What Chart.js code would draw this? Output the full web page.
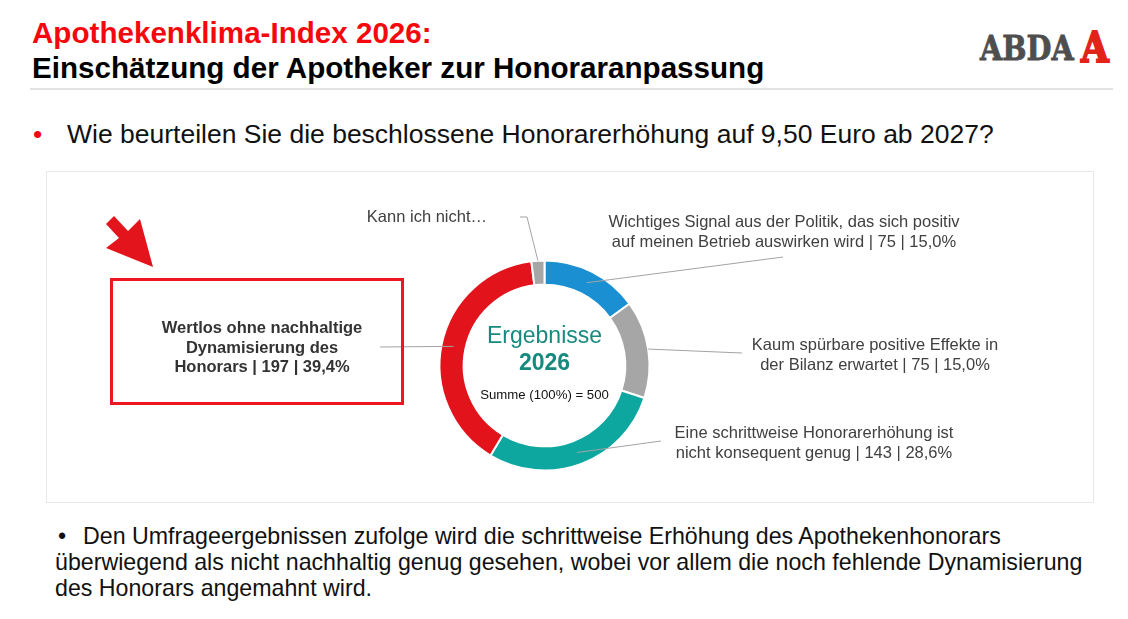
<!DOCTYPE html>
<html lang="de">
<head>
<meta charset="utf-8">
<title>Apothekenklima-Index 2026</title>
<script src="https://cdn.jsdelivr.net/npm/chart.js@4.4.1/dist/chart.umd.min.js"></script>
<style>
  body{margin:0;width:1128px;height:619px;overflow:hidden;background:#fff;position:relative;
    font-family:"Liberation Sans",Arial,sans-serif;color:#111}
  .abs{position:absolute;white-space:nowrap}
  #t1{left:32px;top:16px;font-weight:bold;font-size:29.6px;line-height:34px;color:#f5080d}
  #t2{left:32px;top:51px;font-weight:bold;font-size:29.6px;line-height:34px;color:#000}
  #rule{left:30px;top:88px;width:1083px;height:2px;background:#e2e2e2}
  #logo{left:980px;top:29px;font-family:"DejaVu Serif",serif;font-weight:bold;font-size:33px;
    line-height:40px;color:#4e4e4e;transform:scaleX(0.87);transform-origin:left center;
    -webkit-text-stroke:0.8px #4e4e4e}
  #logoA{left:1081px;top:24px;font-family:"DejaVu Serif",serif;font-weight:bold;font-size:42px;
    line-height:48px;color:#e2231a;transform:scaleX(0.85);transform-origin:left center;
    -webkit-text-stroke:2px #e2231a}
  #q{left:33px;top:119px;font-size:26.5px;line-height:30px}
  #q .dot{color:#f5080d;display:inline-block;width:34px}
  #panel{left:46px;top:171px;width:1048px;height:332px;border:1px solid #e8e8e8;box-sizing:border-box}
  #chart{position:absolute;left:46px;top:171px}
  .lbl{font-size:16.5px;line-height:19.5px;color:#404040;text-align:center}
  .ctr{transform:translateX(-50%)}
  #box{left:110px;top:278px;width:294px;height:127px;border:3px solid #ee1620;box-sizing:border-box}
  #foot{left:55px;top:523px;font-size:23.2px;line-height:26px;color:#111}
  #foot .dot{display:inline-block;width:25px;padding-left:3px}
</style>
</head>
<body>
<div class="abs" id="t1">Apothekenklima-Index 2026:</div>
<div class="abs" id="t2">Einschätzung der Apotheker zur Honoraranpassung</div>
<div class="abs" id="rule"></div>
<div class="abs" id="logo">ABDA</div>
<div class="abs" id="logoA">A</div>
<div class="abs" id="q"><span class="dot">•</span>Wie beurteilen Sie die beschlossene Honorarerhöhung auf 9,50 Euro ab 2027?</div>
<div class="abs" id="panel"></div>
<canvas id="chart" width="1048" height="332"></canvas>
<svg class="abs" style="left:0;top:0" width="200" height="300">
  <polygon points="114,216 128,231 140,219 153,267 106,248 119,238 106,224" fill="#e3141c"/>
</svg>
<div class="abs" id="box"></div>
<div id="labels"></div>
<div class="abs" id="foot"><span class="dot">•</span>Den Umfrageergebnissen zufolge wird die schrittweise Erhöhung des Apothekenhonorars<br>überwiegend als nicht nachhaltig genug gesehen, wobei vor allem die noch fehlende Dynamisierung<br>des Honorars angemahnt wird.</div>
<script>
/* ---------- DATA ---------- */
const categories = [
  ["Wichtiges Signal aus der Politik, das sich positiv", "auf meinen Betrieb auswirken wird"],
  ["Kaum spürbare positive Effekte in", "der Bilanz erwartet"],
  ["Eine schrittweise Honorarerhöhung ist", "nicht konsequent genug"],
  ["Wertlos ohne nachhaltige", "Dynamisierung des", "Honorars"],
  ["Kann ich nicht…"]
];
const counts = [75, 75, 143, 197, 10];
const showValue = [true, true, true, true, false];
const centerTitle = ["Ergebnisse", "2026"];

/* ---------- STYLE + LAYOUT ---------- */
const colors = ["#1a8fd2", "#a6a6a6", "#0ea7a0", "#e2131b", "#a6a6a6"];
const PANEL = {x: 46, y: 171};
const CENTER = {x: 544.5, y: 365.5};
// label boxes (page px): cx = centre x, rx = right edge, top = first line box top
const labelPos = [
  {cx: 784, top: 212},
  {cx: 875, top: 335},
  {cx: 814, top: 423},
  {cx: 262, top: 318, bold: true},
  {rx: 487, top: 207}
];
// leader lines: at = position across ring (0 inner, 1 outer), path in page px
const leaders = [
  {at: 0.5, path: [[783, 257]]},
  {at: 1.0, path: [[742, 353]]},
  {at: 0.5, path: [[661, 441]]},
  {at: 0.5, path: [[380, 347]]},
  {at: 1.0, path: [[527, 217], [520, 217]]}
];

const total = counts.reduce((a, b) => a + b, 0);
const pct = v => (v / total * 100).toFixed(1).replace(".", ",") + "%";

/* ---------- HTML LABELS ---------- */
const host = document.getElementById("labels");
categories.forEach((lines, i) => {
  const p = labelPos[i];
  const txt = lines.slice();
  if (showValue[i]) txt[txt.length - 1] += ` | ${counts[i]} | ${pct(counts[i])}`;
  const d = document.createElement("div");
  d.className = "abs lbl" + (p.cx !== undefined ? " ctr" : "");
  d.innerHTML = txt.join("<br>");
  d.style.top = p.top + "px";
  if (p.cx !== undefined) d.style.left = p.cx + "px";
  else { d.style.right = (1128 - p.rx) + "px"; d.style.textAlign = "right"; }
  if (p.bold) { d.style.fontWeight = "bold"; d.style.color = "#333"; }
  host.appendChild(d);
});
[[centerTitle[0], 23, "normal", 322], [centerTitle[1], 23, "bold", 349], [`Summe (100%) = ${total}`, 13.2, "normal", 387]]
  .forEach(([t, fs, fw, top], k) => {
    const d = document.createElement("div");
    d.className = "abs ctr";
    d.textContent = t;
    d.style.cssText += `left:${CENTER.x}px;top:${top}px;font-size:${fs}px;font-weight:${fw};line-height:${fs * 1.2}px;color:${k < 2 ? "#168a7e" : "#111"}`;
    host.appendChild(d);
  });

/* ---------- LEADER LINES ---------- */
const leaderPlugin = {
  id: "leaders",
  afterDatasetsDraw(chart) {
    const ctx = chart.ctx;
    const arcs = chart.getDatasetMeta(0).data;
    ctx.save();
    ctx.strokeStyle = "#a3a3a3";
    ctx.lineWidth = 1;
    arcs.forEach((arc, i) => {
      const L = leaders[i];
      const {x, y, startAngle, endAngle, innerRadius, outerRadius} =
        arc.getProps(["x", "y", "startAngle", "endAngle", "innerRadius", "outerRadius"], true);
      const mid = (startAngle + endAngle) / 2;
      const r = innerRadius + (outerRadius - innerRadius) * L.at;
      ctx.beginPath();
      ctx.moveTo(x + Math.cos(mid) * r, y + Math.sin(mid) * r);
      L.path.forEach(p => ctx.lineTo(p[0] - PANEL.x, p[1] - PANEL.y));
      ctx.stroke();
    });
    ctx.restore();
  }
};

/* ---------- CHART ---------- */
const cx = CENTER.x - PANEL.x, cy = CENTER.y - PANEL.y;
new Chart(document.getElementById("chart"), {
  type: "doughnut",
  data: {
    labels: categories.map(l => l.join(" ")),
    datasets: [{data: counts, backgroundColor: colors, borderColor: "#fff", borderWidth: 2, hoverOffset: 0}]
  },
  options: {
    responsive: false,
    animation: false,
    devicePixelRatio: 1,
    radius: 105,
    cutout: "77%",
    rotation: 0,
    layout: {padding: {left: cx - 150, right: 1048 - cx - 150, top: cy - 125, bottom: 332 - cy - 125}},
    plugins: {legend: {display: false}, tooltip: {enabled: false}}
  },
  plugins: [leaderPlugin]
});
</script>
</body>
</html>
